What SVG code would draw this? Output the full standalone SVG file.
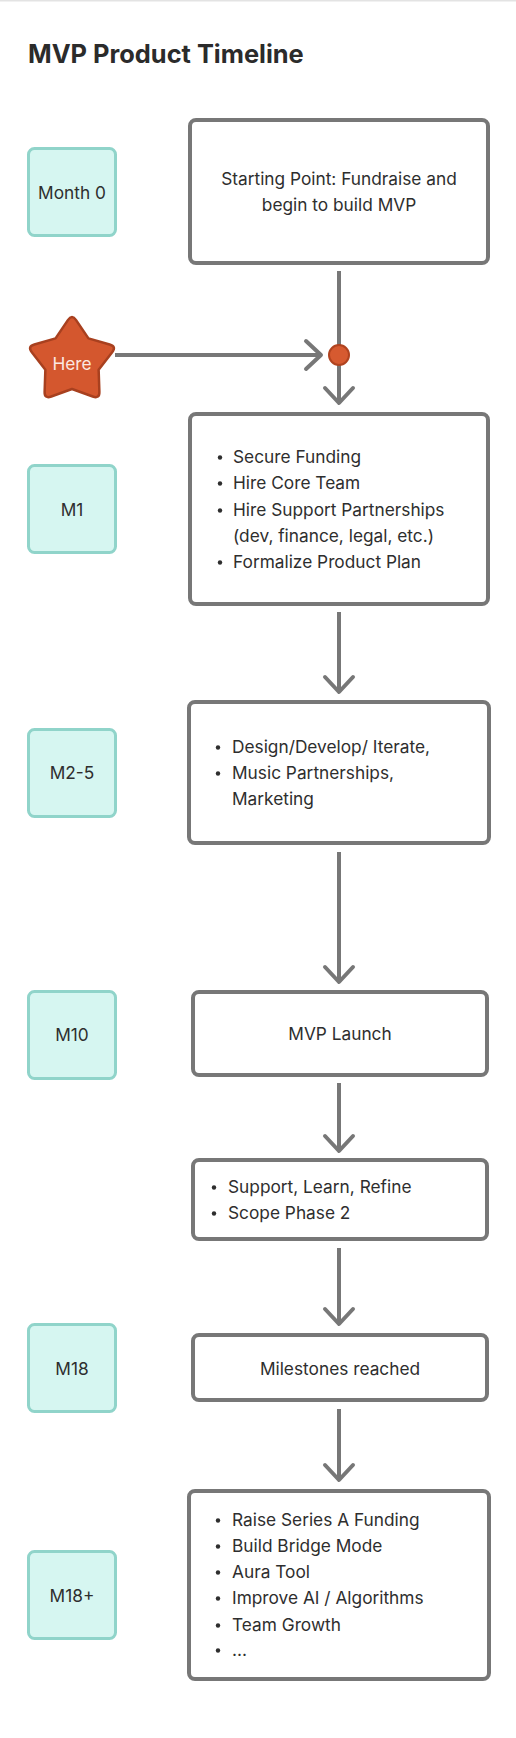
<svg xmlns="http://www.w3.org/2000/svg" width="516" height="1738" viewBox="0 0 516 1738">
<defs>
<style>
.bg{fill:#ffffff}
.box{fill:#ffffff;stroke:#777777;stroke-width:4}
.tag{fill:#d6f6f1;stroke:#90d4ca;stroke-width:3}
.t{font-family:Inter,"Liberation Sans",sans-serif;font-size:17.3px;fill:#2e2e2e}
.c{text-anchor:middle}
.title{font-family:Inter,"Liberation Sans",sans-serif;font-size:25.4px;font-weight:700;fill:#2b2b2b}
.dot{fill:#2e2e2e}
.edge{fill:none;stroke:#777777;stroke-width:4}
</style>
<marker id="arr" markerUnits="userSpaceOnUse" viewBox="-20 -18 24 36" refX="0" refY="0" markerWidth="24" markerHeight="36" orient="auto">
<path d="M-15,-14 L0,0 L-15,14" fill="none" stroke="#777777" stroke-width="4" stroke-linecap="round" stroke-linejoin="round"/>
</marker>
</defs>
<rect class="bg" x="0" y="0" width="516" height="1738"/>
<rect x="0" y="0" width="516" height="1.5" fill="#e3e3e3"/>
<text class="title" x="28" y="63">MVP Product Timeline</text>

<g id="connectors">
<line class="edge" x1="339" y1="271" x2="339" y2="403" marker-end="url(#arr)"/>
<line class="edge" x1="115" y1="355" x2="321" y2="355" marker-end="url(#arr)"/>
<line class="edge" x1="339" y1="612" x2="339" y2="692" marker-end="url(#arr)"/>
<line class="edge" x1="339" y1="852" x2="339" y2="982" marker-end="url(#arr)"/>
<line class="edge" x1="339" y1="1083" x2="339" y2="1151" marker-end="url(#arr)"/>
<line class="edge" x1="339" y1="1248" x2="339" y2="1324" marker-end="url(#arr)"/>
<line class="edge" x1="339" y1="1409" x2="339" y2="1480" marker-end="url(#arr)"/>
<circle id="junction" cx="339" cy="355" r="10" fill="#d65a30" stroke="#b0431f" stroke-width="2"/>
</g>

<g id="here">
<path d="M67.88,320.09 Q72,314 76.12,320.09 L88.46,338.35 L109.64,344.45 Q116.70,346.48 112.18,352.27 L98.63,369.65 L99.38,391.68 Q99.63,399.02 92.72,396.51 L72,389 L51.28,396.51 Q44.37,399.02 44.62,391.68 L45.37,369.65 L31.82,352.27 Q27.30,346.48 34.36,344.45 L55.54,338.35 Z" fill="#d4572e" stroke="#a8401f" stroke-width="2.5" stroke-linejoin="round"/>
<text class="t c" x="72" y="370" style="fill:#fbe9e2">Here</text>
</g>

<g id="month0"><rect class="tag" x="28.5" y="148.5" width="87" height="87" rx="6"/><text class="t c" x="72" y="199">Month 0</text></g>
<g id="m1"><rect class="tag" x="28.5" y="465.5" width="87" height="87" rx="6"/><text class="t c" x="72" y="516">M1</text></g>
<g id="m2-5"><rect class="tag" x="28.5" y="729.5" width="87" height="87" rx="6"/><text class="t c" x="72" y="779">M2-5</text></g>
<g id="m10"><rect class="tag" x="28.5" y="991.5" width="87" height="87" rx="6"/><text class="t c" x="72" y="1041">M10</text></g>
<g id="m18"><rect class="tag" x="28.5" y="1324.5" width="87" height="87" rx="6"/><text class="t c" x="72" y="1375">M18</text></g>
<g id="m18plus"><rect class="tag" x="28.5" y="1551.5" width="87" height="87" rx="6"/><text class="t c" x="72" y="1602">M18+</text></g>

<g id="start">
<rect class="box" x="190" y="120" width="298" height="143" rx="6"/>
<text class="t c" x="339" y="185">Starting Point: Fundraise and</text>
<text class="t c" x="339" y="211">begin to build MVP</text>
</g>

<g id="phase1">
<rect class="box" x="190" y="414" width="298" height="190" rx="6"/>
<circle class="dot" cx="220" cy="457.5" r="2.2"/><text class="t" x="233" y="463">Secure Funding</text>
<circle class="dot" cx="220" cy="483.5" r="2.2"/><text class="t" x="233" y="489">Hire Core Team</text>
<circle class="dot" cx="220" cy="510.5" r="2.2"/><text class="t" x="233" y="516">Hire Support Partnerships</text>
<text class="t" x="233" y="542">(dev, finance, legal, etc.)</text>
<circle class="dot" cx="220" cy="562.5" r="2.2"/><text class="t" x="233" y="568">Formalize Product Plan</text>
</g>

<g id="phase2">
<rect class="box" x="189" y="702" width="300" height="141" rx="6"/>
<circle class="dot" cx="218" cy="747.5" r="2.2"/><text class="t" x="232" y="753">Design/Develop/ Iterate,</text>
<circle class="dot" cx="218" cy="773.5" r="2.2"/><text class="t" x="232" y="779">Music Partnerships,</text>
<text class="t" x="232" y="805">Marketing</text>
</g>

<g id="launch">
<rect class="box" x="193" y="992" width="294" height="83" rx="6"/>
<text class="t c" x="340" y="1040">MVP Launch</text>
</g>

<g id="support">
<rect class="box" x="193" y="1160" width="294" height="79" rx="6"/>
<circle class="dot" cx="214" cy="1187.5" r="2.2"/><text class="t" x="228" y="1193">Support, Learn, Refine</text>
<circle class="dot" cx="214" cy="1213.5" r="2.2"/><text class="t" x="228" y="1219">Scope Phase 2</text>
</g>

<g id="milestones">
<rect class="box" x="193" y="1335" width="294" height="65" rx="6"/>
<text class="t c" x="340" y="1375">Milestones reached</text>
</g>

<g id="phase3">
<rect class="box" x="189" y="1491" width="300" height="188" rx="6"/>
<circle class="dot" cx="218" cy="1520.5" r="2.2"/><text class="t" x="232" y="1526">Raise Series A Funding</text>
<circle class="dot" cx="218" cy="1546.5" r="2.2"/><text class="t" x="232" y="1552">Build Bridge Mode</text>
<circle class="dot" cx="218" cy="1572.5" r="2.2"/><text class="t" x="232" y="1578">Aura Tool</text>
<circle class="dot" cx="218" cy="1598.5" r="2.2"/><text class="t" x="232" y="1604">Improve AI / Algorithms</text>
<circle class="dot" cx="218" cy="1625.5" r="2.2"/><text class="t" x="232" y="1631">Team Growth</text>
<circle class="dot" cx="218" cy="1650.5" r="2.2"/><text class="t" x="232" y="1656">...</text>
</g>
</svg>
